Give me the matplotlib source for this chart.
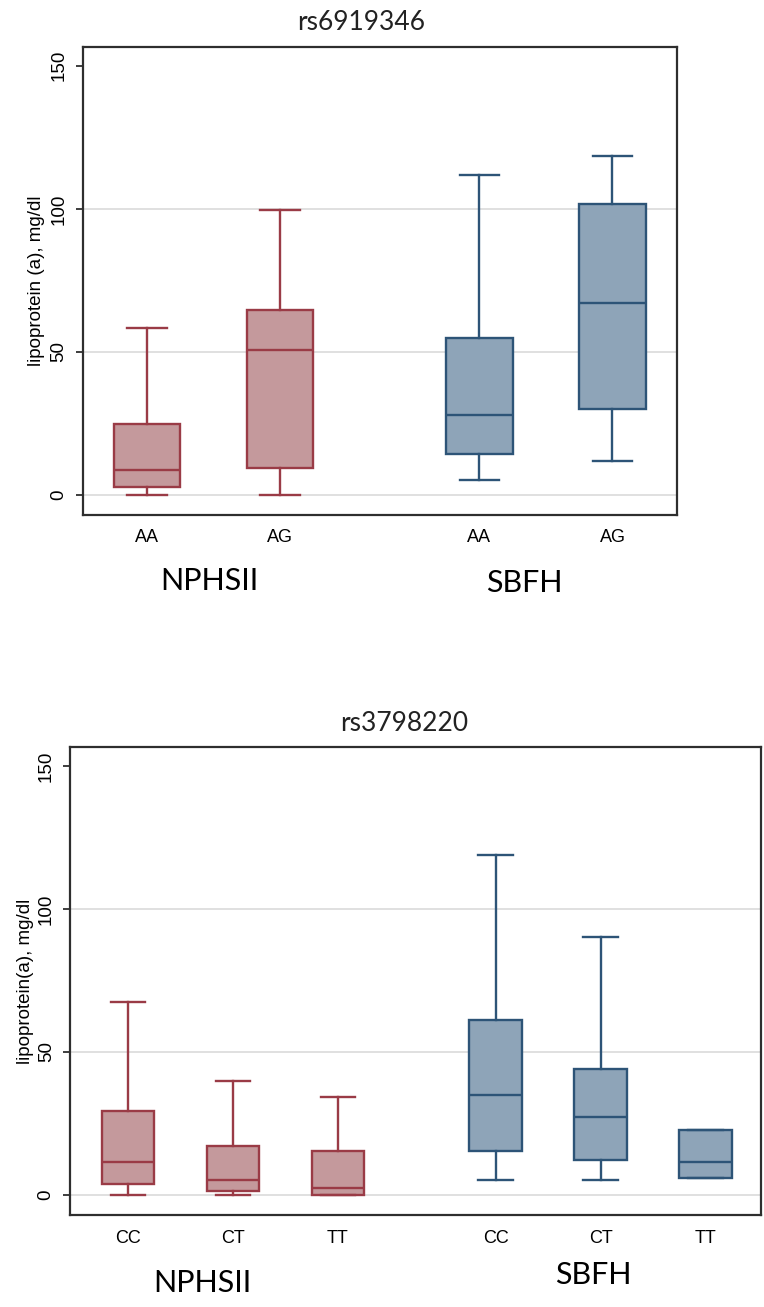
import matplotlib
matplotlib.use("Agg")
import matplotlib.pyplot as plt
import numpy as np

# ---------------- data ----------------
# rs6919346
top_title = "rs6919346"
top_genotypes = ["AA", "AG", "AA", "AG"]
top_group_idx = [0, 0, 1, 1]           # 0 = NPHSII, 1 = SBFH
top_whislo = [0.0, 0.0, 5.1, 12.0]
top_q1 = [2.8, 9.5, 14.3, 30.2]
top_med = [8.8, 50.5, 27.9, 67.2]
top_q3 = [24.8, 64.8, 55.0, 101.8]
top_whishi = [58.2, 99.6, 111.9, 118.5]

# rs3798220
bot_title = "rs3798220"
bot_genotypes = ["CC", "CT", "TT", "CC", "CT", "TT"]
bot_group_idx = [0, 0, 0, 1, 1, 1]
bot_whislo = [0.0, 0.0, 0.0, 5.3, 5.3, 6.1]
bot_q1 = [4.0, 1.4, 0.0, 15.2, 12.2, 6.1]
bot_med = [11.4, 5.4, 2.3, 34.9, 27.3, 11.5]
bot_q3 = [29.5, 17.2, 15.2, 61.2, 43.9, 22.7]
bot_whishi = [67.3, 39.9, 34.1, 118.7, 90.0, 22.7]

groups = ["NPHSII", "SBFH"]

# ---------------- style ----------------
red_edge, red_fill = "#9A3B46", "#C4999C"
blue_edge, blue_fill = "#2D5477", "#8EA4B8"
grid_col = "#DDDDDD"
spine_col = "#2E2E2E"
tick_font = "Liberation Sans"
title_font = ["Lato", "DejaVu Sans"]

fig = plt.figure(figsize=(7.64, 13.07), dpi=100, facecolor="white")
ax_top = fig.add_axes([0.1086, 0.6060, 0.7775, 0.3581])
ax_bot = fig.add_axes([0.0916, 0.0704, 0.9050, 0.3581])


def draw_panel(ax, genotypes, gidx, wlo, q1, med, q3, whi, xlim, cap_w,
               ylabel, label_x, group_pos, group_y, tick_pad):
    pos = np.arange(len(genotypes)) + 0.5 * np.array(gidx)
    stats = []
    for i in range(len(genotypes)):
        stats.append(dict(med=med[i], q1=q1[i], q3=q3[i],
                          whislo=wlo[i], whishi=whi[i], fliers=[]))
    for g, (edge, fill) in enumerate([(red_edge, red_fill), (blue_edge, blue_fill)]):
        sel = [i for i in range(len(genotypes)) if gidx[i] == g]
        ax.bxp([stats[i] for i in sel], positions=pos[sel], widths=0.5,
               patch_artist=True, showfliers=False, capwidths=cap_w,
               boxprops=dict(facecolor=fill, edgecolor=edge, linewidth=1.7),
               medianprops=dict(color=edge, linewidth=1.7),
               whiskerprops=dict(color=edge, linewidth=1.7),
               capprops=dict(color=edge, linewidth=1.7),
               manage_ticks=False)

    for yv in [0, 50, 100]:
        ax.axhline(yv, color=grid_col, linewidth=1.3, zorder=0)

    ax.set_xlim(*xlim)
    ax.set_ylim(-7, 156.6)
    ax.set_yticks([0, 50, 100, 150])
    ax.set_yticklabels(["0", "50", "100", "150"], rotation=90, va="center",
                       fontsize=13.5, family=tick_font)
    ax.tick_params(axis="y", length=5, width=1.3, pad=6, color=spine_col)
    ax.set_xticks(pos)
    ax.set_xticklabels(genotypes, fontsize=13, family=tick_font)
    ax.tick_params(axis="x", length=0, pad=tick_pad)

    ax.set_ylabel(ylabel, fontsize=13.5, family=tick_font)
    ax.yaxis.set_label_coords(label_x, 0.5)

    for sp in ax.spines.values():
        sp.set_linewidth(1.6)
        sp.set_color(spine_col)

    for name, gx, gy in zip(groups, group_pos, group_y):
        ax.text(gx, gy, name, transform=ax.get_xaxis_transform(),
                ha="center", va="center", fontsize=22, family=title_font,
                clip_on=False)


draw_panel(ax_top, top_genotypes, top_group_idx, top_whislo, top_q1, top_med,
           top_q3, top_whishi, xlim=(-0.481, 3.985), cap_w=0.3,
           ylabel="lipoprotein (a), mg/dl", label_x=-0.064,
           group_pos=[0.47, 2.84], group_y=[-0.141, -0.145], tick_pad=10)

draw_panel(ax_bot, bot_genotypes, bot_group_idx, bot_whislo, bot_q1, bot_med,
           bot_q3, bot_whishi, xlim=(-0.551, 6.03), cap_w=0.33,
           ylabel="lipoprotein(a), mg/dl", label_x=-0.052,
           group_pos=[0.71, 4.43], group_y=[-0.145, -0.128], tick_pad=11)

fig.text(361 / 764, 1 - 23 / 1307, top_title, ha="center", va="center",
         fontsize=19, family=title_font, color="#222222")
fig.text(404 / 764, 1 - 724 / 1307, bot_title, ha="center", va="center",
         fontsize=19, family=title_font, color="#222222")

fig.savefig("out.png", dpi=100, facecolor="white")
